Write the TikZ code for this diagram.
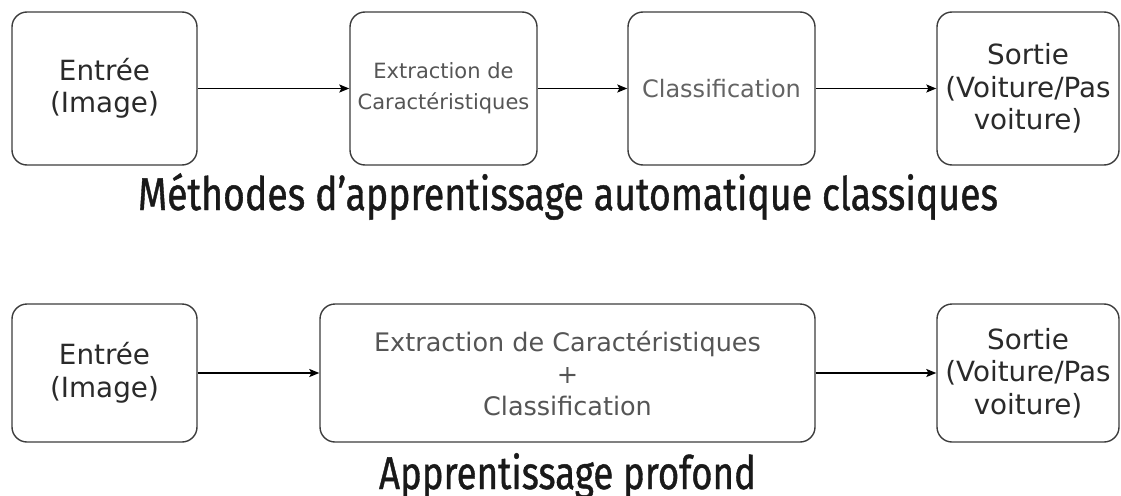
\documentclass[tikz,border=0pt]{standalone}
\usepackage{fontspec}
\usepackage{graphicx}
\setmainfont{DejaVu Sans}
\newfontfamily\titlefont[FakeBold=1]{Fira Sans}
\usetikzlibrary{arrows.meta}
\definecolor{boxline}{HTML}{3C3C3C}
\definecolor{darktext}{HTML}{2A2A2A}
\definecolor{greytext}{HTML}{555555}
\definecolor{lighttext}{HTML}{636363}
\tikzset{
  box/.style={draw=boxline, line width=1.4pt, rounded corners=15pt, inner sep=0pt,
    align=center, text=darktext},
  bigtxt/.style={font=\fontsize{27.8}{32.5}\selectfont},
  conn/.style={draw=black, line width=1.3pt, -{Stealth[length=10pt,width=8pt,inset=2pt]}},
  titletxt/.style={text=black!90, anchor=base, inner sep=0pt}
}
\begin{document}
\begin{tikzpicture}[x=1pt,y=-1pt]
\useasboundingbox (0,0) rectangle (1121,495);
% top row
\node[box, bigtxt, minimum width=185pt, minimum height=153pt] (a1) at (104.5,88.5) {Entrée\\(Image)};
\node[box, text=greytext, font=\fontsize{21}{31}\selectfont, minimum width=187pt, minimum height=153pt] (a2) at (443.5,88.5) {Extraction de\\Caractéristiques};
\node[box, text=lighttext, font=\fontsize{24}{30}\selectfont, minimum width=187pt, minimum height=153pt] (a3) at (721.5,88.5) {Classification};
\node[box, bigtxt, minimum width=182pt, minimum height=153pt] (a4) at (1028,88.5) {Sortie\\(Voiture/Pas\\voiture)};
\draw[conn] (a1) -- (a2);
\draw[conn] (a2) -- (a3);
\draw[conn] (a3) -- (a4);
\node[titletxt] (t1) at (568,210) {\resizebox{860pt}{\height}{\titlefont\fontsize{46}{52}\selectfont Méthodes d’apprentissage automatique classiques}};
% bottom row
\node[box, bigtxt, minimum width=185pt, minimum height=138pt] (b1) at (104.5,373) {Entrée\\(Image)};
\node[box, text=greytext, font=\fontsize{25.5}{32}\selectfont, minimum width=495pt, minimum height=138pt] (b2) at (567.5,373) {Extraction de Caractéristiques\\+\\Classification};
\node[box, bigtxt, minimum width=182pt, minimum height=138pt] (b3) at (1028,373) {Sortie\\(Voiture/Pas\\voiture)};
\draw[conn] (b1) -- (b2);
\draw[conn] (b2) -- (b3);
\node[titletxt] (t2) at (567.5,489) {\resizebox{377pt}{\height}{\titlefont\fontsize{46}{52}\selectfont Apprentissage profond}};
\end{tikzpicture}
\end{document}
